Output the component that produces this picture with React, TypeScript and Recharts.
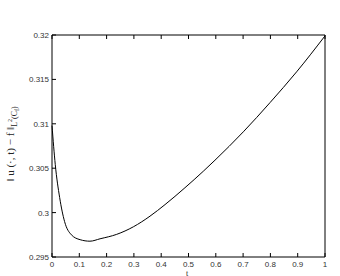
import React from "react";
import { LineChart, Line, XAxis, YAxis } from "recharts";

const tValues = [0, 0.012, 0.028, 0.046, 0.071, 0.103, 0.139, 0.176, 0.237, 0.298, 0.359, 0.414, 0.487, 0.554, 0.597, 0.701, 0.799, 0.896, 1.0];
const errValues = [0.3098, 0.3054, 0.3017, 0.299, 0.2975, 0.29695, 0.29678, 0.29705, 0.29755, 0.2984, 0.2996, 0.3009, 0.3028, 0.30465, 0.3059, 0.3091, 0.3124, 0.31585, 0.3199];
const xTicks = [0, 0.1, 0.2, 0.3, 0.4, 0.5, 0.6, 0.7, 0.8, 0.9, 1];
const xTickLabels = ["0", "0.1", "0.2", "0.3", "0.4", "0.5", "0.6", "0.7", "0.8", "0.9", "1"];
const yTicks = [0.295, 0.3, 0.305, 0.31, 0.315, 0.32];
const yTickLabels = ["0.295", "0.3", "0.305", "0.31", "0.315", "0.32"];

const data = tValues.map((t, i) => ({ t, v: errValues[i] }));

const TICK_FONT = "'Liberation Sans', Arial, sans-serif";
const TICK_LEN = 4;

const BottomTick = (props: any) => {
  const { x, y, payload, index } = props;
  return (
    <g>
      <line x1={x} x2={x} y1={y} y2={y - TICK_LEN} stroke="#000" strokeWidth={1} />
      <text x={x} y={y + 10} textAnchor="middle" fontSize={8} fontFamily={TICK_FONT} fill="#333">
        {xTickLabels[index] ?? String(payload.value)}
      </text>
    </g>
  );
};

const TopTick = (props: any) => {
  const { x, y } = props;
  return <line x1={x} x2={x} y1={y} y2={y + TICK_LEN} stroke="#000" strokeWidth={1} />;
};

const LeftTick = (props: any) => {
  const { x, y, payload, index } = props;
  return (
    <g>
      <line x1={x} x2={x + TICK_LEN} y1={y} y2={y} stroke="#000" strokeWidth={1} />
      <text x={x - 3} y={y + 3} textAnchor="end" fontSize={8} fontFamily={TICK_FONT} fill="#333">
        {yTickLabels[index] ?? String(payload.value)}
      </text>
    </g>
  );
};

const RightTick = (props: any) => {
  const { x, y } = props;
  return <line x1={x} x2={x - TICK_LEN} y1={y} y2={y} stroke="#000" strokeWidth={1} />;
};

const YLabel = () => (
  <text
    transform="translate(14,144) rotate(-90)"
    textAnchor="middle"
    fontSize={11}
    fontFamily="'Liberation Serif', 'Times New Roman', serif"
    fill="#222"
  >
    <tspan>{"\u2016 u (\u00b7, t) \u2212 f \u2016"}</tspan>
    <tspan fontSize={8} dy={3}>L</tspan>
    <tspan fontSize={6} dy={-5}>2</tspan>
    <tspan fontSize={8} dy={5}>(C</tspan>
    <tspan fontSize={6} dy={2}>f</tspan>
    <tspan fontSize={8} dy={-2}>)</tspan>
  </text>
);

const XLabel = () => (
  <text x={187} y={276} textAnchor="middle" fontSize={8} fontFamily="'Liberation Serif', 'Times New Roman', serif" fill="#222">
    t
  </text>
);

export default function App() {
  return (
    <div style={{ position: "absolute", left: 0, top: 0, width: 340, height: 276, background: "#fff" }}>
      <LineChart width={340} height={276} data={data} margin={{ top: 34, right: 14, bottom: 0, left: 0 }}>
        <XAxis
          xAxisId="b"
          dataKey="t"
          type="number"
          domain={[0, 1]}
          ticks={xTicks}
          height={19}
          tickSize={0}
          tickMargin={0}
          tick={<BottomTick />}
          axisLine={{ stroke: "#000", strokeWidth: 1 }}
          interval={0}
          label={{ content: () => <XLabel /> }}
        />
        <XAxis
          xAxisId="t"
          orientation="top"
          dataKey="t"
          type="number"
          domain={[0, 1]}
          ticks={xTicks}
          height={1}
          tickSize={0}
          tickMargin={0}
          tick={<TopTick />}
          axisLine={{ stroke: "#000", strokeWidth: 1 }}
          interval={0}
        />
        <YAxis
          yAxisId="l"
          type="number"
          domain={[0.295, 0.32]}
          ticks={yTicks}
          width={52}
          tickSize={0}
          tickMargin={0}
          tick={<LeftTick />}
          axisLine={{ stroke: "#000", strokeWidth: 1 }}
          interval={0}
          label={{ content: () => <YLabel /> }}
        />
        <YAxis
          yAxisId="r"
          orientation="right"
          type="number"
          domain={[0.295, 0.32]}
          ticks={yTicks}
          width={1}
          tickSize={0}
          tickMargin={0}
          tick={<RightTick />}
          axisLine={{ stroke: "#000", strokeWidth: 1 }}
          interval={0}
        />
        <Line
          xAxisId="b"
          yAxisId="l"
          dataKey="v"
          type="monotone"
          stroke="#000"
          strokeWidth={1}
          dot={false}
          isAnimationActive={false}
        />
      </LineChart>
    </div>
  );
}
